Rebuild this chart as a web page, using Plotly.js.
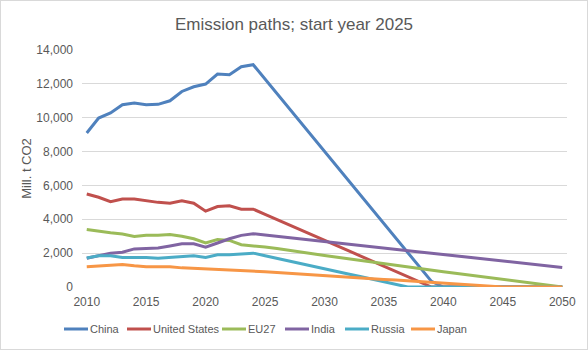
<!DOCTYPE html>
<html>
<head>
<meta charset="utf-8">
<script src="https://cdn.plot.ly/plotly-3.0.1.min.js"></script>
<style>
  html, body { margin: 0; padding: 0; background: #ffffff; }
  #frame { position: absolute; left: 0; top: 0; width: 588px; height: 350px; box-sizing: border-box; border: 1px solid #d9d9d9; background: #fff; }
  #chart { width: 586px; height: 348px; }
</style>
</head>
<body>
<div id="frame"><div id="chart"></div></div>
<script>
const years = [2010,2011,2012,2013,2014,2015,2016,2017,2018,2019,2020,2021,2022,2023,2024,2025,2026,2027,2028,2029,2030,2031,2032,2033,2034,2035,2036,2037,2038,2039,2040,2041,2042,2043,2044,2045,2046,2047,2048,2049,2050];

const china = [9100,9980,10280,10770,10870,10770,10790,11000,11550,11830,11990,12580,12540,13010,13130,
  12280,11420,10570,9720,8870,8010,7160,6310,5460,4600,3750,2900,2050,1190,330,0,0,0,0,0,0,0,0,0,0,0];
const unitedStates = [5490,5300,5040,5200,5200,5100,5000,4950,5100,4950,4480,4750,4800,4600,4600,
  4290,3990,3680,3370,3070,2760,2450,2150,1840,1530,1230,920,610,310,0,0,0,0,0,0,0,0,0,0,0,0];
const eu27 = [3400,3280,3200,3130,2980,3050,3050,3100,3000,2850,2600,2800,2750,2500,2450,
  2360,2270,2180,2080,1970,1860,1760,1660,1560,1460,1370,1280,1190,1090,990,900,810,720,640,560,470,390,300,200,100,0];
const india = [1700,1850,2000,2050,2250,2280,2300,2420,2550,2550,2350,2600,2850,3050,3150,
  3070,2990,2920,2840,2760,2690,2610,2530,2460,2380,2300,2230,2150,2070,2000,1920,1840,1770,1690,1610,1540,1460,1380,1310,1230,1150];
const russia = [1710,1850,1850,1750,1750,1750,1700,1750,1800,1850,1750,1900,1900,1950,2000,
  1850,1690,1540,1380,1230,1080,920,770,620,460,310,150,0,0,0,0,0,0,0,0,0,0,0,0,0,0];
const japan = [1200,1250,1280,1330,1250,1200,1200,1200,1130,1100,1050,1050,1030,980,950,
  900,860,810,770,720,680,630,590,540,500,450,410,360,320,270,230,180,140,90,50,0,0,0,0,0,0];

const seriesNames = ["China","United States","EU27","India","Russia","Japan"];
const seriesValues = [china, unitedStates, eu27, india, russia, japan];
const colors = ["#4F81BD","#C0504D","#9BBB59","#8064A2","#4BACC6","#F79646"];

const xTicks = [2010,2015,2020,2025,2030,2035,2040,2045,2050];
const yTicks = [0,2000,4000,6000,8000,10000,12000,14000];

const traces = seriesNames.map((n, i) => ({
  x: years, y: seriesValues[i], name: n, type: 'scatter', mode: 'lines',
  line: {color: colors[i], width: 3}, showlegend: false
}));

// Legend layout (Excel-style compact legend), positions in page pixels
const M = {l: 81, r: 20, t: 49, b: 62};
const W = 586, H = 348;
const plotW = W - M.l - M.r, plotH = H - M.t - M.b;
const px = x => (x - 1 - M.l) / plotW;
const py = y => (H - M.b + 1 - y) / plotH;
const legendStarts = [64, 127, 222, 285, 345, 411];
const legendY = 329;
const shapes = [], annotations = [];
const font = "Liberation Sans, Arial, sans-serif";
seriesNames.forEach((n, i) => {
  const s = legendStarts[i];
  shapes.push({type: 'line', xref: 'paper', yref: 'paper', x0: px(s), x1: px(s + 24),
               y0: py(legendY), y1: py(legendY), line: {color: colors[i], width: 3}});
  annotations.push({xref: 'paper', yref: 'paper', x: px(s + 24), y: py(legendY), xanchor: 'left', yanchor: 'middle',
                    text: n, showarrow: false, font: {family: font, size: 11, color: '#595959'}});
});

const layout = {
  width: W, height: H,
  margin: M,
  paper_bgcolor: '#ffffff', plot_bgcolor: '#ffffff',
  font: {family: font, size: 12, color: '#595959'},
  title: {text: 'Emission paths; start year 2025', font: {family: font, size: 17, color: '#595959'},
          x: 0.5, xanchor: 'center', y: 0.935, yanchor: 'middle', yref: 'container'},
  xaxis: {range: [2009.6, 2050.4], tickvals: xTicks, ticktext: xTicks.map(String),
          showgrid: false, zeroline: false, showline: false, ticks: '', ticklabelstandoff: 6,
          tickfont: {size: 12, color: '#595959'}, fixedrange: true},
  yaxis: {range: [0, 14000], tickvals: yTicks, ticktext: yTicks.map(v => v.toLocaleString('en-US')),
          showgrid: true, gridcolor: '#d9d9d9', gridwidth: 1, zeroline: false, showline: false, ticks: '',
          ticklabelstandoff: 8, tickfont: {size: 12, color: '#595959'},
          title: {text: 'Mill. t CO2', font: {size: 13, color: '#595959'}, standoff: 1}, fixedrange: true},
  shapes: shapes,
  annotations: annotations,
  showlegend: false
};

Plotly.newPlot('chart', traces, layout, {displayModeBar: false, staticPlot: true});
</script>
</body>
</html>
